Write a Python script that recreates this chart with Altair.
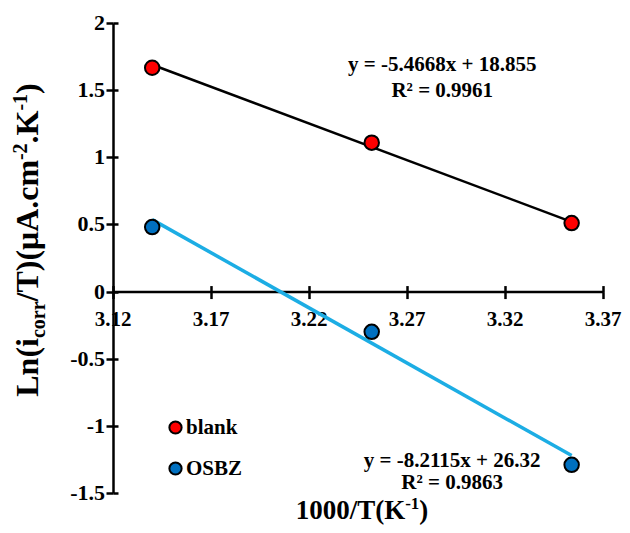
import altair as alt
import pandas as pd

# ---- data ----
inv_T = [3.14, 3.252, 3.354]            # 1000/T (K^-1)
blank_y = [1.667, 1.109, 0.51]
osbz_y = [0.48, -0.30, -1.29]
series = ["blank", "OSBZ"]
fit_slope = [-5.4668, -8.2115]
fit_icept = [18.855, 26.32]
eq_lines = [["y = -5.4668x + 18.855", "R² = 0.9961"],
            ["y = -8.2115x + 26.32", "R² = 0.9863"]]
eq_x = [3.288, 3.293]
eq_y = [[1.69, 1.49], [-1.262, -1.428]]
x_ticks = [3.12, 3.17, 3.22, 3.27, 3.32, 3.37]
x_tick_labels = ["3.12", "3.17", "3.22", "3.27", "3.32", "3.37"]
y_ticks = [-1.5, -1, -0.5, 0, 0.5, 1, 1.5, 2]
y_tick_labels = ["-1.5", "-1", "-0.5", "0", "0.5", "1", "1.5", "2"]
x_dom = [3.12, 3.37]
y_dom = [-1.5, 2]

W, H = 490, 470
FONT = "Liberation Serif"
y0_px = H * (y_dom[1] - 0) / (y_dom[1] - y_dom[0])   # pixel of y = 0

pts = pd.DataFrame({
    "x": inv_T * 2,
    "y": blank_y + osbz_y,
    "s": [series[0]] * 3 + [series[1]] * 3,
})

rows = []
for s, m, b in zip(series, fit_slope, fit_icept):
    for xv in (min(inv_T), max(inv_T)):
        rows.append({"x": xv, "y": m * xv + b, "fit": s + " fit"})
lines_df = pd.DataFrame(rows)
fit_names = [s + " fit" for s in series]

eq_rows = []
for i in range(2):
    for j in range(2):
        eq_rows.append({"x": eq_x[i], "y": eq_y[i][j], "t": eq_lines[i][j]})
eq_df = pd.DataFrame(eq_rows)

xs = alt.Scale(domain=x_dom, nice=False, zero=False)
ys = alt.Scale(domain=y_dom, nice=False, zero=False)

lines = alt.Chart(lines_df).mark_line().encode(
    x=alt.X("x:Q", scale=xs, axis=alt.Axis(orient="top", offset=-y0_px, values=x_ticks,
                                          labels=False, domain=False, grid=False, title=None,
                                          tickSize=6, tickWidth=2.5, tickColor="black")),
    y=alt.Y("y:Q", scale=ys, axis=alt.Axis(orient="right", offset=-W, values=y_ticks,
                                          labels=False, domain=False, grid=False, title=None,
                                          tickSize=5, tickWidth=2.5, tickColor="black")),
    stroke=alt.Stroke("fit:N", scale=alt.Scale(domain=fit_names, range=["#000000", "#1CADE4"]),
                      legend=None),
    strokeWidth=alt.StrokeWidth("fit:N", scale=alt.Scale(domain=fit_names, range=[2.5, 3.5]),
                                legend=None),
)

points = alt.Chart(pts).mark_point(filled=True, size=210, stroke="black", strokeWidth=2, opacity=1).encode(
    x=alt.X("x:Q", scale=xs, axis=alt.Axis(orient="bottom", offset=-(H - y0_px), values=x_ticks,
                                          labels=False, grid=False, title=None,
                                          domainColor="black", domainWidth=2.5,
                                          tickSize=7, tickWidth=2.5, tickColor="black")),
    y=alt.Y("y:Q", scale=ys, axis=alt.Axis(orient="left", values=y_ticks, labels=False,
                                          grid=False, title=None,
                                          domainColor="black", domainWidth=2.5,
                                          tickSize=7, tickWidth=2.5, tickColor="black")),
    fill=alt.Fill("s:N", scale=alt.Scale(domain=series, range=["#FF0000", "#0070C0"]),
                  legend=alt.Legend(orient="none", legendX=52, legendY=394, title=None,
                                    labelFont=FONT, labelFontSize=21, labelFontWeight="bold",
                                    labelColor="black", symbolType="circle", symbolSize=150,
                                    symbolStrokeColor="black", symbolStrokeWidth=2,
                                    symbolOpacity=1, rowPadding=19, labelOffset=0, padding=0)),
)

# tick labels drawn as bold text through the scales
xlab = alt.Chart(pd.DataFrame({"v": x_ticks, "t": x_tick_labels})).mark_text(
    font=FONT, fontSize=21, fontWeight="bold", color="black", align="center", baseline="middle"
).encode(x=alt.X("v:Q", scale=xs, axis=None), y=alt.value(y0_px + 28), text="t:N")

ylab = alt.Chart(pd.DataFrame({"v": y_ticks, "t": y_tick_labels})).mark_text(
    font=FONT, fontSize=22, fontWeight="bold", color="black", align="right", baseline="middle"
).encode(x=alt.value(-8), y=alt.Y("v:Q", scale=ys, axis=None), text="t:N")

eqs = alt.Chart(eq_df).mark_text(font=FONT, fontSize=21, fontWeight="bold", color="black",
                                 align="center", baseline="middle").encode(
    x=alt.X("x:Q", scale=xs, axis=None),
    y=alt.Y("y:Q", scale=ys, axis=None),
    text="t:N",
)

# ---- axis titles with sub/superscripts (text pieces) ----
TNR = {"L": 667, "n": 556, "(": 333, "i": 278, "c": 444, "o": 500, "r": 444, "/": 278,
       "T": 667, ")": 333, "μ": 556, "A": 722, ".": 250, "m": 833, "K": 778, "-": 333,
       "2": 500, "1": 500, "0": 500}


def tw(s, fs):
    return sum(TNR.get(ch, 500) for ch in s) * fs / 1000.0


def piece(txt, fs, px, py, angle):
    return alt.Chart(pd.DataFrame({"t": [txt]})).mark_text(
        font=FONT, fontSize=fs, fontWeight="bold", color="black", align="left",
        baseline="alphabetic", angle=angle).encode(
        x=alt.value(px), y=alt.value(py), text="t:N")


title_layers = []
# y title (rotated)
F, f = 32, 20
ypieces = [("Ln(i", F, 0), ("corr", f, 7), ("/T)(μA.cm", F, 0), ("-2", f, -11),
           (".K", F, 0), ("-1", f, -11), (")", F, 0)]
total = sum(tw(t, s) for t, s, _ in ypieces)
base_x = 38 - 113
pos = 217 + total / 2
for t, s, dx in ypieces:
    title_layers.append(piece(t, s, base_x + dx, pos, 270))
    pos -= tw(t, s)

# x title
F2, f2 = 27, 17
xpieces = [("1000/T(K", F2, 0), ("-1", f2, -10), (")", F2, 0)]
total = sum(tw(t, s) for t, s, _ in xpieces)
pos = 249 - total / 2
for t, s, dy in xpieces:
    title_layers.append(piece(t, s, pos, 496 + dy, 0))
    pos += tw(t, s)

chart = alt.layer(xlab, ylab, lines, points, eqs, *title_layers).resolve_axis(
    x="independent", y="independent"
).properties(
    width=W, height=H,
    autosize=alt.AutoSizeParams(type="none"),
    padding={"left": 105, "top": 15, "right": 19, "bottom": 32},
).configure_view(stroke=None)

chart.save("out.html", embed_options={"renderer": "svg", "actions": False})
